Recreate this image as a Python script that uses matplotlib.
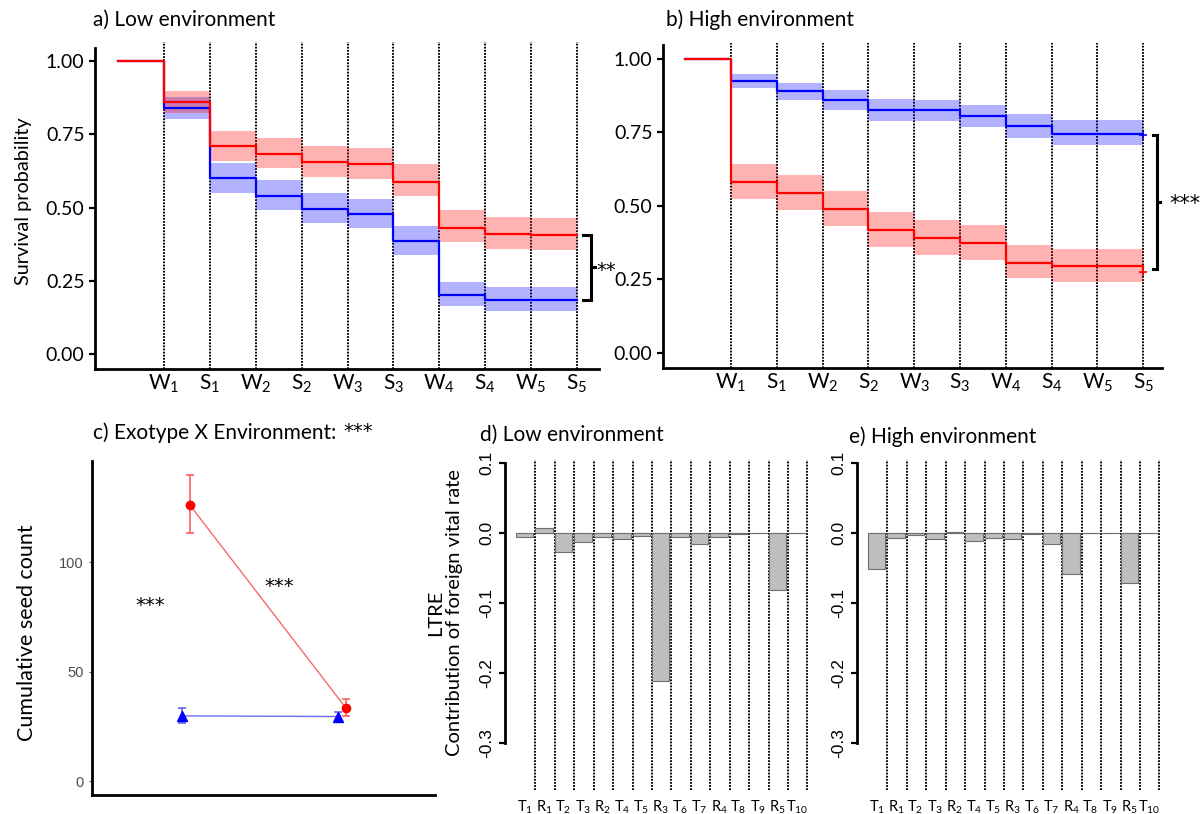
import matplotlib.pyplot as plt
import numpy as np
from matplotlib.ticker import FormatStrFormatter

plt.rcParams["font.family"] = ["Lato", "DejaVu Sans"]
plt.rcParams["mathtext.fontset"] = "custom"
plt.rcParams["mathtext.rm"] = "Lato"
plt.rcParams["mathtext.it"] = "Lato:italic"
plt.rcParams["axes.unicode_minus"] = False

W, H = 1203, 814

# census points on the survival x axis
census = ["W$_1$", "S$_1$", "W$_2$", "S$_2$", "W$_3$",
          "S$_3$", "W$_4$", "S$_4$", "W$_5$", "S$_5$"]

# a) low environment: survival per interval (start, W1..W5/S5, end)
low_red = [1.0, 0.859, 0.711, 0.684, 0.655, 0.649, 0.589, 0.432, 0.409, 0.407, 0.407]
low_red_lo = [0.822, 0.659, 0.634, 0.606, 0.598, 0.539, 0.382, 0.358, 0.357]
low_red_hi = [0.899, 0.761, 0.739, 0.710, 0.705, 0.648, 0.491, 0.468, 0.464]
low_blue = [1.0, 0.839, 0.600, 0.541, 0.494, 0.478, 0.386, 0.202, 0.186, 0.186, 0.186]
low_blue_lo = [0.802, 0.551, 0.492, 0.447, 0.430, 0.339, 0.165, 0.149, 0.149]
low_blue_hi = [0.878, 0.652, 0.593, 0.549, 0.531, 0.439, 0.247, 0.231, 0.231]

# b) high environment
high_red = [1.0, 0.582, 0.545, 0.489, 0.417, 0.391, 0.373, 0.306, 0.295, 0.295, 0.274]
high_red_lo = [0.524, 0.486, 0.430, 0.361, 0.334, 0.317, 0.253, 0.242, 0.242]
high_red_hi = [0.642, 0.606, 0.551, 0.480, 0.453, 0.434, 0.366, 0.354, 0.354]
high_blue = [1.0, 0.926, 0.892, 0.861, 0.825, 0.825, 0.805, 0.773, 0.745, 0.745, 0.742]
high_blue_lo = [0.901, 0.859, 0.825, 0.788, 0.788, 0.768, 0.731, 0.706, 0.706]
high_blue_hi = [0.950, 0.920, 0.895, 0.865, 0.862, 0.842, 0.814, 0.791, 0.791]

# c) cumulative seed count (low, high environment)
env_pos = [1, 2]
seed_red = [126.1, 33.3]
seed_red_lo = [113.4, 29.8]
seed_red_hi = [140.0, 37.6]
seed_blue = [29.8, 29.5]
seed_blue_lo = [26.7, 28.0]
seed_blue_hi = [33.5, 31.6]

# d, e) LTRE contributions
rates = ["T$_1$", "R$_1$", "T$_2$", "T$_3$", "R$_2$", "T$_4$", "T$_5$", "R$_3$",
         "T$_6$", "T$_7$", "R$_4$", "T$_8$", "T$_9$", "R$_5$", "T$_{10}$"]
ltre_low = [-0.005, 0.007, -0.027, -0.013, -0.005, -0.009, -0.004, -0.212,
            -0.005, -0.016, -0.005, -0.001, 0.0005, -0.081, 0.0]
ltre_high = [-0.051, -0.007, -0.003, -0.009, 0.002, -0.012, -0.007, -0.008,
             -0.0015, -0.016, -0.059, -0.0005, 0.0005, -0.071, 0.0]

DOT = (0, (0.9, 0.7))


def box(x0, y0, x1, y1):
    # pixel box, origin top-left -> figure rect
    return [x0 / W, 1 - y1 / H, (x1 - x0) / W, (y1 - y0) / H]


fig = plt.figure(figsize=(W / 100, H / 100), dpi=100)


def survival(ax, red, rlo, rhi, blue, blo, bhi, xlim, ylim, top):
    t = np.arange(len(red))
    tb = t[1:]
    ax.fill_between(tb, blo + blo[-1:], bhi + bhi[-1:], step="post",
                    color="#0000ff", alpha=0.3, lw=0)
    ax.fill_between(tb, rlo + rlo[-1:], rhi + rhi[-1:], step="post",
                    color="#ff0000", alpha=0.3, lw=0)
    ax.step(t, blue, where="post", color="#0000ff", lw=1.6)
    ax.step(t, red, where="post", color="#ff0000", lw=1.6)
    for i in range(1, 11):
        ax.axvline(i, color="black", ls=DOT, lw=1.4, zorder=0)
    ax.set_xlim(*xlim)
    ax.set_ylim(*ylim)
    ax.set_xticks(np.arange(1, 11))
    ax.set_xticklabels(census, fontsize=15)
    ax.tick_params(axis="x", length=0, pad=3)
    ax.set_yticks([0, 0.25, 0.5, 0.75, 1.0])
    ax.yaxis.set_major_formatter(FormatStrFormatter("%.2f"))
    ax.tick_params(axis="y", labelsize=14, length=4, width=1.6)
    for s in ["top", "right"]:
        ax.spines[s].set_visible(False)
    for s in ["left", "bottom"]:
        ax.spines[s].set_linewidth(2)
    ax.spines["left"].set_bounds(ylim[0], top)


def bracket(ax, x, y0, y1, hook, nub, lw):
    ax.plot([x - hook, x, x, x - hook], [y0, y0, y1, y1], color="black",
            lw=lw, clip_on=False, solid_joinstyle="miter")
    ym = (y0 + y1) / 2
    ax.plot([x, x + nub], [ym, ym], color="black", lw=lw, clip_on=False)


# a) Low environment
ax_a = fig.add_axes(box(95, 42, 599, 369))
survival(ax_a, low_red, low_red_lo, low_red_hi, low_blue, low_blue_lo,
         low_blue_hi, (-0.503, 10.48), (-0.05, 1.065), 1.044)
bracket(ax_a, 10.30, low_red[-1], low_blue[-1], 0.17, 0.09, 2.2)
ax_a.text(10.43, (low_red[-1] + low_blue[-1]) / 2 - 0.01, "**", fontsize=14,
          ha="left", va="center", family="DejaVu Sans", clip_on=False)
fig.text(93 / W, 1 - 20 / H, "a) Low environment", fontsize=15,
         ha="left", va="center")
fig.text(24 / W, 1 - 201 / H, "Survival probability", fontsize=14.3,
         rotation=90, ha="center", va="center")

# b) High environment
ax_b = fig.add_axes(box(663, 43, 1162, 368))
survival(ax_b, high_red, high_red_lo, high_red_hi, high_blue, high_blue_lo,
         high_blue_hi, (-0.485, 10.41), (-0.052, 1.0545), 1.048)
ax_b.plot([10], [high_red[-1]], marker="+", ms=6, mew=1.2, color="#ff0000")
ax_b.plot([10], [high_blue[-1]], marker="+", ms=6, mew=1.2, color="#0000ff")
bracket(ax_b, 10.30, high_blue[-1], high_red[-1] + 0.01, 0.09, 0.07, 2.2)
ax_b.text(10.58, (high_blue[-1] + high_red[-1]) / 2, "***", fontsize=15,
          ha="left", va="center", family="DejaVu Sans", clip_on=False)
fig.text(666 / W, 1 - 20 / H, "b) High environment", fontsize=15,
         ha="left", va="center")

# c) Exotype x environment interaction
ax_c = fig.add_axes(box(92, 461, 435, 795))
xr = np.array(env_pos) + 0.026
xb = np.array(env_pos) - 0.026
ax_c.plot(xr, seed_red, color="#f46a6a", lw=1)
ax_c.plot(xb, seed_blue, color="#6a6af4", lw=1)
ax_c.errorbar(xr, seed_red,
              yerr=[np.subtract(seed_red, seed_red_lo), np.subtract(seed_red_hi, seed_red)],
              fmt="o", color="#ff0000", ms=6, ecolor="#f25555", elinewidth=1.1,
              capsize=3, capthick=1.1)
ax_c.errorbar(xb, seed_blue,
              yerr=[np.subtract(seed_blue, seed_blue_lo), np.subtract(seed_blue_hi, seed_blue)],
              fmt="^", color="#0000ff", ms=6.5, ecolor="#5555f2", elinewidth=1.1,
              capsize=3, capthick=1.1)
ax_c.set_xlim(0.397, 2.596)
ax_c.set_ylim(-6.4, 146.4)
ax_c.set_xticks([])
ax_c.set_yticks([0, 50, 100])
ax_c.tick_params(axis="y", labelsize=10.5, labelcolor="#4d4d4d", color="#4d4d4d",
                 length=2.5, width=0.8)
for lab in ax_c.get_yticklabels():
    lab.set_family("Liberation Sans")
for s in ["top", "right"]:
    ax_c.spines[s].set_visible(False)
for s in ["left", "bottom"]:
    ax_c.spines[s].set_linewidth(2)
ax_c.text(0.769, 80.1, "***", fontsize=14, ha="center", va="center",
          family="DejaVu Sans")
ax_c.text(1.596, 89.2, "***", fontsize=14, ha="center", va="center",
          family="DejaVu Sans")
fig.text(93 / W, 1 - 433 / H, "c) Exotype X Environment:", fontsize=15,
         ha="left", va="center")
fig.text(343 / W, 1 - 431 / H, "***", fontsize=14, ha="left", va="center",
         family="DejaVu Sans")
fig.text(27 / W, 1 - 633 / H, "Cumulative seed count", fontsize=15.5,
         rotation=90, ha="center", va="center")


def ltre(ax, vals):
    x = np.arange(len(vals))
    ax.bar(x, vals, width=0.9, color="#bebebe", edgecolor="#6f6f6f", lw=0.8)
    ax.hlines(0, -0.45, len(vals) - 0.45, color="#8a8a8a", lw=0.8, zorder=0)
    for i in x:
        ax.axvline(i + 0.55, color="black", ls=DOT, lw=1.4, zorder=0)
    ax.set_xlim(-1.01, 14.99)
    ax.set_ylim(-0.367, 0.1043)
    ax.set_xticks(x)
    ax.set_xticklabels(rates, fontsize=10.5)
    ax.tick_params(axis="x", length=0, pad=6)
    ax.set_yticks([-0.3, -0.2, -0.1, 0.0, 0.1])
    ax.yaxis.set_major_formatter(FormatStrFormatter("%.1f"))
    ax.tick_params(axis="y", labelsize=12.5, length=4, width=1.6, pad=4,
                   labelrotation=90)
    for lab in ax.get_yticklabels():
        lab.set_family("Liberation Sans")
        lab.set_va("center")
    for s in ["top", "right", "bottom"]:
        ax.spines[s].set_visible(False)
    ax.spines["left"].set_linewidth(2)
    ax.spines["left"].set_bounds(-0.3, 0.1)


# d) Low environment LTRE
ax_d = fig.add_axes(box(505, 460, 816, 790))
ltre(ax_d, ltre_low)
fig.text(480 / W, 1 - 435 / H, "d) Low environment", fontsize=15,
         ha="left", va="center")
fig.text(445 / W, 1 - 613 / H, "LTRE\nContribution of foreign vital rate",
         fontsize=14.5, rotation=90, ha="center", va="center",
         multialignment="center", linespacing=1.1)

# e) High environment LTRE
ax_e = fig.add_axes(box(857, 460, 1168, 790))
ltre(ax_e, ltre_high)
fig.text(849 / W, 1 - 437 / H, "e) High environment", fontsize=15,
         ha="left", va="center")

fig.savefig("out.png", dpi=100)
